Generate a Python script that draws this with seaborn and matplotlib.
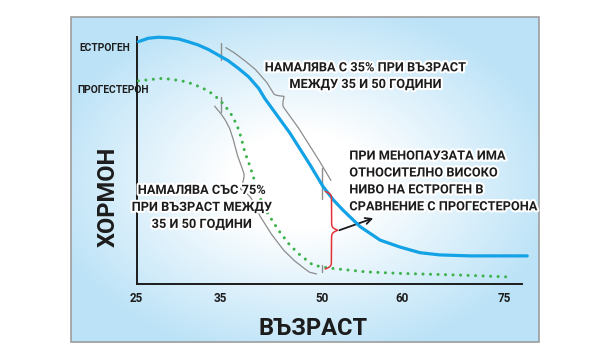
import numpy as np
import matplotlib
matplotlib.use("Agg")
import matplotlib.pyplot as plt
import matplotlib.patheffects as pe
from matplotlib.patches import Rectangle
from matplotlib.transforms import IdentityTransform
import seaborn as sns

sns.set_style("white")
plt.rcParams["font.family"] = ["Roboto", "DejaVu Sans"]

# hormone curves (age in years, relative level 0-100)
estrogen_age = [25.2, 26.4, 27.6, 28.8, 30.0, 31.1, 32.3, 33.5, 34.7, 36.1,
                37.6, 39.1, 40.6, 41.5, 45.2, 48.2, 50.1, 51.4, 52.6, 54.8,
                57.3, 59.8, 62.7, 65.6, 70.0, 78.4]
estrogen_lvl = [98.1, 99.5, 99.9, 99.7, 99.2, 98.1, 96.8, 95.0, 92.7, 90.4,
                87.3, 83.9, 79.2, 75.1, 61.1, 48.1, 39.3, 33.9, 29.8, 23.0,
                17.6, 14.8, 12.5, 11.6, 11.2, 11.2]

progesterone_age = [25.2, 26.8, 28.0, 29.2, 30.8, 31.7, 32.9, 33.9, 34.9, 35.9,
                    36.6, 37.4, 37.9, 38.3, 38.6, 39.1, 39.6, 40.1, 40.8, 41.8,
                    43.5, 45.2, 46.7, 48.6, 50.7, 55.6, 59.8, 68.7, 76.3]
progesterone_lvl = [82.2, 82.8, 83.2, 82.8, 81.9, 80.9, 79.2, 77.2, 74.4, 71.1,
                    68.4, 64.3, 60.2, 56.2, 52.9, 49.3, 45.2, 40.8, 34.7, 29.1,
                    21.7, 15.6, 11.6, 7.5, 6.3, 4.7, 4.1, 3.4, 2.6]

age_ticks = [25, 35, 50, 60, 75]
series_labels = ["ЕСТРОГЕН", "ПРОГЕСТЕРОН"]
note_top = ["НАМАЛЯВА С 35% ПРИ ВЪЗРАСТ", "МЕЖДУ 35 И 50 ГОДИНИ"]
note_left = ["НАМАЛЯВА СЪС 75%", "ПРИ ВЪЗРАСТ МЕЖДУ", "35 И 50 ГОДИНИ"]
note_right = ["ПРИ МЕНОПАУЗАТА ИМА", "ОТНОСИТЕЛНО ВИСОКО",
              "НИВО НА ЕСТРОГЕН В", "СРАВНЕНИЕ С ПРОГЕСТЕРОНА"]
x_title = "ВЪЗРАСТ"
y_title = "ХОРМОН"

# the hand-drawn age axis is not evenly spaced: pixel column of each tick
scale_age = [20, 25, 35, 50, 60, 75, 90]
scale_px = [94.7, 136.7, 220.7, 322.3, 401.5, 504.0, 606.5]

BLUE = "#14a2e6"
GREEN = "#3bb24a"
GRAY = "#8c8c8c"
RED = "#e2323a"
INK = "#1c1c1c"

W, H = 600, 357
fig = plt.figure(figsize=(W / 100, H / 100), dpi=100)


def fx(px):
    return px / W


def fy(py):
    return 1 - py / H


# framed panel with a soft blue vignette
bg = fig.add_axes([0, 0, 1, 1], zorder=-5)
yy, xx = np.mgrid[17:342, 71:539]
u = (xx - 300) / 234.0
v = (yy - 180) / 162.0
t = np.clip((np.sqrt(u ** 2 + v ** 2) - 0.3) / 0.8, 0, 1)
edge = np.array([0.74, 0.89, 0.97])
bg.imshow(1 - t[..., None] * (1 - edge), extent=(71, 539, 342, 17),
          aspect="auto", interpolation="bilinear")
bg.add_patch(Rectangle((71, 17), 468, 325, fill=False, ec="#9c9c9c", lw=1.2))
bg.set_xlim(0, W)
bg.set_ylim(H, 0)
bg.axis("off")

ax = fig.add_axes([fx(136.7), fy(283.5), (521.7 - 136.7) / W, (283.5 - 37) / H])
ax.set_facecolor("none")

sns.lineplot(x=estrogen_age, y=estrogen_lvl, ax=ax, color=BLUE, lw=2.3,
             solid_joinstyle="round", errorbar=None, clip_on=False, zorder=4)
sns.lineplot(x=progesterone_age, y=progesterone_lvl, ax=ax, color=GREEN, lw=2.2,
             linestyle=(0, (0.01, 2.45)), dash_capstyle="round",
             errorbar=None, clip_on=False, zorder=4)


def fwd(a):
    return np.interp(a, scale_age, scale_px)


def inv(p):
    return np.interp(p, scale_px, scale_age)


ax.set_xscale("function", functions=(fwd, inv))
ax.set_xlim(25, inv(521.7))
ax.set_ylim(0, 100)

for s in ["top", "right"]:
    ax.spines[s].set_visible(False)
for s in ["left", "bottom"]:
    ax.spines[s].set_color(INK)
    ax.spines[s].set_linewidth(1.4)
ax.set_yticks([])
ax.set_xticks(age_ticks)
ax.set_xticklabels([str(a) for a in age_ticks], fontsize=8.4, fontweight="bold",
                   color=INK)
ax.tick_params(axis="x", direction="inout", length=6, width=1, color=INK, pad=3.4)
ax.xaxis.get_major_ticks()[0].tick1line.set_visible(False)
ax.set_xlabel("")
ax.set_ylabel("")

PIX = IdentityTransform()


def level_px(age, ages, lvls):
    return ax.transData.transform((age, np.interp(age, ages, lvls)))


def side_brace(ages, lvls, a0, a1, off, bump, side, at=0.44, half=0.05):
    a = np.asarray(ages, float)
    l = np.asarray(lvls, float)
    keep = (a > a0) & (a < a1)
    seg = np.column_stack([np.r_[a0, a[keep], a1],
                           np.r_[np.interp(a0, a, l), l[keep], np.interp(a1, a, l)]])
    p = ax.transData.transform(seg)
    d = np.r_[0, np.cumsum(np.hypot(*np.diff(p, axis=0).T))]
    s = np.linspace(0, d[-1], 300)
    p = np.column_stack([np.interp(s, d, p[:, 0]), np.interp(s, d, p[:, 1])])
    n = len(p)
    k = 12
    idx = np.arange(n)
    tang = p[np.minimum(idx + k, n - 1)] - p[np.maximum(idx - k, 0)]
    nrm = np.column_stack([-tang[:, 1], tang[:, 0]])
    nrm /= np.hypot(nrm[:, 0], nrm[:, 1])[:, None]
    f = s / s[-1]
    notch = np.clip(1 - np.abs(f - at) / half, 0, 1) ** 1.5
    q = p + side * nrm * (off + bump * notch)[:, None]
    ax.plot(q[:, 0], q[:, 1], transform=PIX, color=GRAY, lw=0.9,
            clip_on=False, zorder=2)


def vtick(age, ages, lvls, below, above):
    x, y = level_px(age, ages, lvls)
    ax.plot([x, x], [y - below, y + above], transform=PIX, color=GRAY, lw=1.0,
            clip_on=False, zorder=2)


side_brace(estrogen_age, estrogen_lvl, 35, 50, 10, 7, 1, at=0.43)
side_brace(progesterone_age, progesterone_lvl, 35, 49.5, 8, 8, -1, at=0.46, half=0.07)
vtick(35, estrogen_age, estrogen_lvl, 4, 13)
vtick(50, estrogen_age, estrogen_lvl, 14, 17)
vtick(35, progesterone_age, progesterone_lvl, 11, 4)
vtick(50, progesterone_age, progesterone_lvl, 5, 2)

# red curly brace between the two curves at menopause
ex, ey = level_px(50, estrogen_age, estrogen_lvl)
px_, py_ = level_px(50, progesterone_age, progesterone_lvl)
x0 = ex + 3
ytop, ybot = ey - 6, py_ - 2
tt = np.linspace(0, 1, 200)
hh = np.where(tt < 0.5, tt, 1 - tt)
sig = lambda z: 1 / (1 + np.exp(-z))
g = sig(60 * hh) + sig(60 * (hh - 0.5))
g = (g - g.min()) / (g.max() - g.min())
ax.plot(x0 + 12 * g, ytop + (ybot - ytop) * tt, transform=PIX, color=RED, lw=1.1,
        clip_on=False, zorder=5)
tipx, tipy = x0 + 12, (ytop + ybot) / 2
ax.annotate("", xy=(tipx + 36, tipy + 12), xycoords="figure pixels",
            xytext=(tipx + 2, tipy), textcoords="figure pixels",
            arrowprops=dict(arrowstyle="->", color=INK, lw=1.3,
                            shrinkA=0, shrinkB=0, mutation_scale=11))

halo = [pe.withStroke(linewidth=3, foreground="white")]

fig.text(fx(79), fy(51), series_labels[0], fontsize=7.4, fontweight="bold",
         color=INK, ha="left", va="baseline")
fig.text(fx(77.7), fy(92.6), series_labels[1], fontsize=7.4, fontweight="bold",
         color=INK, ha="left", va="baseline")

for i, line in enumerate(note_top):
    fig.text(fx(365), fy(71.3 + 16.7 * i), line, fontsize=9.2, fontweight="bold",
             color=INK, ha="center", va="baseline", path_effects=halo)
for i, line in enumerate(note_left):
    fig.text(fx(201.5), fy(193.9 + 17 * i), line, fontsize=9.2, fontweight="bold",
             color=INK, ha="center", va="baseline", path_effects=halo)
for i, line in enumerate(note_right):
    fig.text(fx(349.3), fy(159.6 + 16.9 * i), line, fontsize=9.2, fontweight="bold",
             color=INK, ha="left", va="baseline", path_effects=halo)

fig.text(fx(312.7), fy(335), x_title, fontsize=17, fontweight="bold", color=INK,
         ha="center", va="baseline")
fig.text(fx(114.5), fy(197), y_title, fontsize=17, fontweight="bold", color=INK,
         ha="center", va="baseline", rotation=90, rotation_mode="anchor")

fig.savefig("out.png", dpi=100)
